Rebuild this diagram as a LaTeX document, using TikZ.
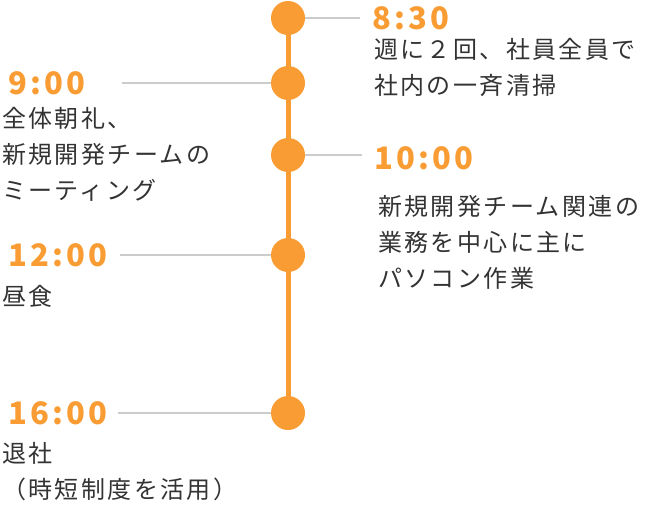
\documentclass[tikz,border=0pt]{standalone}
\usepackage{fontspec}
\setmainfont{Noto Sans CJK JP}
\definecolor{org}{HTML}{F99C33}
\definecolor{gl}{HTML}{CCCCCC}
\definecolor{tx}{HTML}{333333}
\begin{document}
\begin{tikzpicture}[x=1pt,y=-1pt,
  dot/.style={circle,fill=org,minimum size=34pt,inner sep=0pt},
  tm/.style={text=org,font=\fontsize{31}{31}\selectfont\bfseries\addfontfeatures{LetterSpace=10},inner sep=0pt},
  bd/.style={text=tx,font=\fontsize{24}{36}\selectfont\addfontfeatures{LetterSpace=10},align=left,inner sep=0pt,anchor=north west},
  gline/.style={draw=gl,line width=1.2pt}]
\useasboundingbox (0,0) rectangle (658,504);
\coordinate (top) at (288,18); \coordinate (bot) at (288,413);
\draw[org,line width=5pt] (top)--(bot);
\node[dot] (d1) at (288,18){};
\node[dot] (d2) at (288,83){};
\node[dot] (d3) at (288,155){};
\node[dot] (d4) at (288,255){};
\node[dot] (d5) at (288,413){};
\node[tm,anchor=west] (t1) at (372,18){8:30};
\node[tm,anchor=west] (t2) at (8,83){9:00};
\node[tm,anchor=west] (t3) at (374,158){10:00};
\node[tm,anchor=west] (t4) at (8,255){12:00};
\node[tm,anchor=west] (t5) at (8,413){16:00};
\coordinate (e1) at (360,18); \coordinate (e2) at (122,83);
\coordinate (e3) at (362,155); \coordinate (e4) at (120,255); \coordinate (e5) at (118,413);
\draw[gline] (d1)--(e1); \draw[gline] (d2)--(e2); \draw[gline] (d3)--(e3);
\draw[gline] (d4)--(e4); \draw[gline] (d5)--(e5);
\node[bd] (b1) at (374,38){週に２回、社員全員で\\社内の一斉清掃};
\node[bd] (b2) at (2,107){全体朝礼、\\新規開発チームの\\ミーティング};
\node[bd] (b3) at (378,195){新規開発チーム関連の\\業務を中心に主に\\パソコン作業};
\node[bd] (b4) at (2,285){昼食};
\node[bd] (b5) at (2,442){退社\\（時短制度を活用）};
\end{tikzpicture}
\end{document}
